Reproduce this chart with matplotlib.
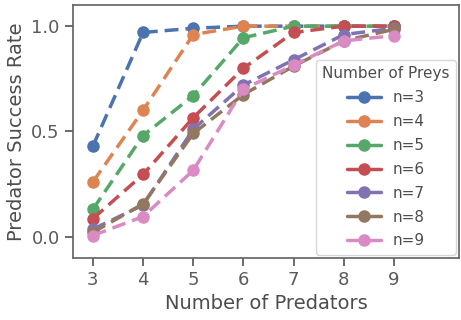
import matplotlib
matplotlib.use("Agg")
import matplotlib.pyplot as plt
import seaborn as sns
from matplotlib.lines import Line2D

sns.set_theme(style="ticks", palette="deep")
plt.rcParams.update({
    "text.color": "#4d4d4d",
    "axes.labelcolor": "#4d4d4d",
    "xtick.color": "#5a5a5a",
    "ytick.color": "#5a5a5a",
    "axes.edgecolor": "#666666",
})

predators = [3, 4, 5, 6, 7, 8, 9]
n3 = [0.43, 0.97, 0.99, 1.0, 1.0, 1.0, 1.0]
n4 = [0.26, 0.60, 0.96, 1.0, 1.0, 1.0, 1.0]
n5 = [0.13, 0.48, 0.67, 0.945, 1.0, 1.0, 1.0]
n6 = [0.085, 0.295, 0.565, 0.80, 0.97, 1.0, 1.0]
n7 = [0.035, 0.15, 0.51, 0.72, 0.84, 0.96, 0.99]
n8 = [0.02, 0.155, 0.49, 0.675, 0.81, 0.93, 0.985]
n9 = [0.005, 0.095, 0.315, 0.70, 0.815, 0.93, 0.955]
series = [n3, n4, n5, n6, n7, n8, n9]
labels = ["n=3", "n=4", "n=5", "n=6", "n=7", "n=8", "n=9"]

colors = sns.color_palette("deep")

fig = plt.figure(figsize=(4.61, 3.2), dpi=100)
ax = fig.add_axes([0.158, 0.195, 0.838, 0.789])

handles = []
for vals, lab, c in zip(series, labels, colors):
    ax.plot(predators, vals, linestyle="--", marker="o", color=c,
            linewidth=2.5, markersize=8, dashes=(4, 2))
    handles.append(Line2D([], [], color=c, marker="o", linewidth=2.5, markersize=8))

ax.set_xlim(2.6, 10.3)
ax.set_ylim(-0.1, 1.1)
ax.set_xticks(predators)
ax.set_yticks([0.0, 0.5, 1.0])
ax.tick_params(labelsize=13, length=6)
ax.set_xlabel("Number of Predators", fontsize=14)
ax.set_ylabel("Predator Success Rate", fontsize=14)

leg = ax.legend(handles, labels, title="Number of Preys", loc="lower right",
                fontsize=11, title_fontsize=11, handlelength=2.2,
                labelspacing=0.58, borderaxespad=0.2)
leg.get_title().set_color("#4d4d4d")

fig.savefig("out.png", dpi=100)
